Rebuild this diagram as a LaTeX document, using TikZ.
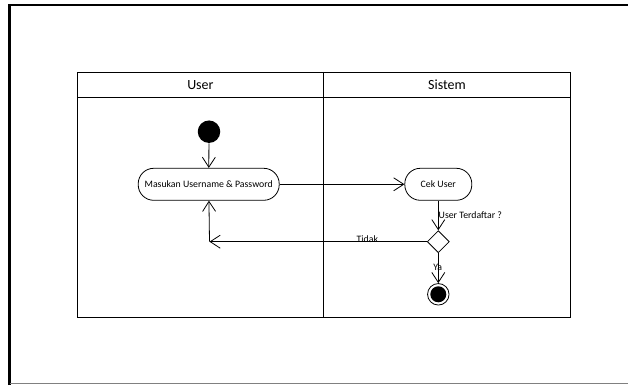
\documentclass[tikz,border=0pt]{standalone}
\usepackage{fontspec}
\setmainfont{Carlito}
\usetikzlibrary{arrows.meta,shapes.geometric}

\tikzset{
  act/.style={draw, rectangle, rounded corners=15.5pt, minimum height=32pt, inner xsep=6pt, font=\fontsize{9.8}{11}\selectfont},
  flow/.style={-{Straight Barb[length=10pt,width=13pt]}},
  lbl/.style={font=\fontsize{9.8}{11}\selectfont, inner sep=1pt},
}

\begin{document}
\begin{tikzpicture}[x=1pt,y=-1pt,line width=0.8pt]
        \useasboundingbox (0,0) rectangle (628,385);
        % cadre de la diapo
        \draw[line width=2.5pt] (9.5,385) -- (9.5,5) -- (628,5);
        \draw[gray, line width=1pt] (9.5,383.5) -- (628,383.5);

        % couloirs
        \draw (77.5,72) rectangle (570.5,317.5);
        \draw (77.5,97.7) -- (570.5,97.7);
        \draw (323.3,72) -- (323.3,317.5);
        \node[font=\fontsize{14}{16}\selectfont] (userLane) at (200.4,85) {User};
        \node[font=\fontsize{14}{16}\selectfont] (sysLane) at (447,85) {Sistem};

        % noeuds
        \node[circle, fill, minimum size=22.5pt, inner sep=0pt] (start) at (209,131.7) {};
        \node[act, minimum width=141pt] (login) at (208.7,184.3) {Masukan Username \& Password};
        \node[act, minimum width=67pt] (cek) at (438.3,184.3) {Cek User};
        \node[diamond, draw, minimum size=22pt, inner sep=0pt, aspect=1] (dec) at (438.3,241.7) {};
        \node[circle, draw, minimum size=21.5pt, inner sep=0pt] (stop) at (438.3,294.3) {};
        \node[circle, fill, minimum size=16pt, inner sep=0pt] at (stop) {};
        \coordinate (back) at (209.5,241.7);

        % transitions
        \draw[flow] (start) -- (login);
        \draw[flow] (login) -- (cek);
        \draw[flow] (cek) -- node[lbl, right, xshift=-1pt] {User Terdaftar ?} (dec);
        \draw[flow] (dec) -- (back);
        \node[lbl] (tidak) at (367.3,239.5) {Tidak};
        \draw[flow] (back) -- (login);
        \draw[flow] (dec) -- (stop);
        \node[lbl] (ya) at (437.7,267.7) {Ya};
\end{tikzpicture}
\end{document}
